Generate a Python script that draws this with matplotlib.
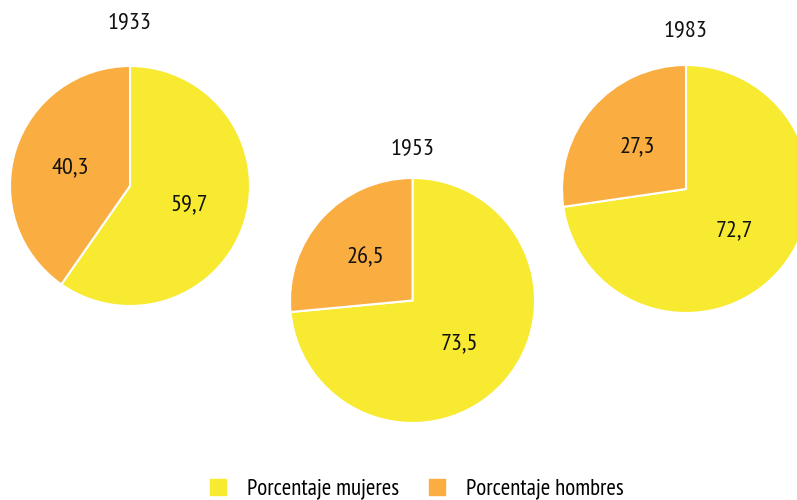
import matplotlib
matplotlib.use("Agg")
import matplotlib.pyplot as plt
from matplotlib.lines import Line2D

years = ["1933", "1953", "1983"]
mujeres = [59.7, 73.5, 72.7]
hombres = [40.3, 26.5, 27.3]
series_names = ["Porcentaje mujeres", "Porcentaje hombres"]
colors = ["#F7EA31", "#FAAD40"]

plt.rcParams['font.family'] = ['PT Sans Narrow', 'Roboto Condensed', 'DejaVu Sans']

W, H = 797, 500
fig = plt.figure(figsize=(W / 100, H / 100), dpi=100)
fig.patch.set_facecolor("white")

# pie layout in pixels: (center x, center y from top, radius, title y from top)
layout = [(130, 186, 120, 23), (412.5, 300.5, 122.5, 149), (686, 189, 124, 31)]

for (cx, cy, r, ty), year, m, h in zip(layout, years, mujeres, hombres):
    ax = fig.add_axes([(cx - r) / W, (H - cy - r) / H, 2 * r / W, 2 * r / H])
    vals = [m, h]
    wedges, texts, autotexts = ax.pie(
        vals, colors=colors, startangle=90, counterclock=False,
        autopct=lambda p: f"{p:.1f}".replace(".", ","), pctdistance=0.52,
        wedgeprops=dict(edgecolor="white", linewidth=1.5),
        textprops=dict(fontsize=17.5, color="#111111"), radius=1.0)
    ax.set_xlim(-1, 1)
    ax.set_ylim(-1, 1)
    ax.set_aspect("auto")
    ax.axis("off")
    fig.text(cx / W, 1 - ty / H, year, ha="center", va="center",
             fontsize=17.5, color="#111111")

handles = [Line2D([], [], marker="s", linestyle="none", markersize=11.5,
                  markerfacecolor=c, markeredgecolor=c) for c in colors]
fig.legend(handles, series_names, loc="center left",
           bbox_to_anchor=(206.5 / W, 1 - 489 / H),
           ncol=2, frameon=False, fontsize=16.5, handletextpad=0.77,
           columnspacing=1.16, handlelength=1.0, borderaxespad=0, borderpad=0)

fig.savefig("out.png", dpi=100, facecolor="white")
